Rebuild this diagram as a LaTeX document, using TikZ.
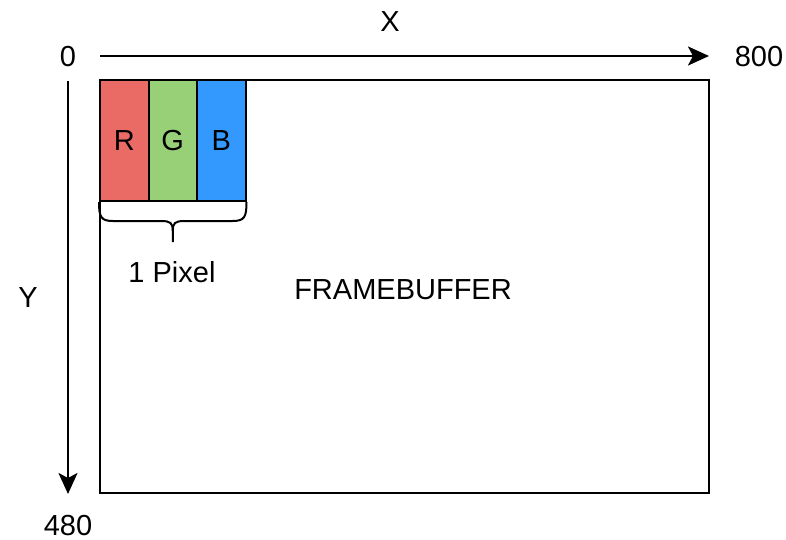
\documentclass[tikz,border=0pt]{standalone}
\usepackage{fontspec}
\setmainfont{Liberation Sans}
\usetikzlibrary{arrows.meta,calc}
\definecolor{cR}{HTML}{EA6B66}
\definecolor{cG}{HTML}{97D077}
\definecolor{cB}{HTML}{3399FF}
\begin{document}
\begin{tikzpicture}[x=1pt,y=-1pt,
  every node/.style={font=\fontsize{29}{35}\selectfont, inner sep=0pt},
  lbl/.style={anchor=center},
  chan/.style={draw=black, line width=2pt, minimum width=48.5pt, minimum height=121pt},
  fbbox/.style={draw=black, line width=2pt, minimum width=609pt, minimum height=413pt},
  axis/.style={line width=2.5pt, -{Stealth[length=21pt,width=19pt,inset=5pt]}}]
\useasboundingbox (0,0) rectangle (786,540);
\node[fbbox] (fb) at (404.5,286.5) {};
\node[lbl] (fbl) at (403,290) {FRAMEBUFFER};
\node[chan, fill=cR] (R) at (124.25,140.5) {R};
\node[chan, fill=cG] (G) at (172.75,140.5) {G};
\node[chan, fill=cB] (B) at (221.25,140.5) {B};
% brace
\coordinate (bl) at (R.south west);
\coordinate (br) at (B.south east);
\coordinate (bm) at ($(bl)!0.5!(br)$);
\draw[line width=2pt]
  (bl) .. controls ($(bl)+(0,15)$) and ($(bl)+(2,19)$) .. ($(bl)+(14,19)$)
  -- ($(bm)+(-12,19)$) .. controls ($(bm)+(-2,19)$) and ($(bm)+(0,21)$) .. ($(bm)+(0,29)$)
  -- ($(bm)+(0,40)$);
\draw[line width=2pt]
  (br) .. controls ($(br)+(0,15)$) and ($(br)+(-2,19)$) .. ($(br)+(-14,19)$)
  -- ($(bm)+(12,19)$) .. controls ($(bm)+(2,19)$) and ($(bm)+(0,21)$) .. ($(bm)+(0,29)$);
\node[lbl] (pix) at (172,272) {1 Pixel};
% axes
\node[lbl] (zero) at (68,57) {0};
\node[lbl] (xmax) at (759,57) {800};
\node[lbl] (xl) at (390,22) {X};
\node[lbl] (yl) at (28,298) {Y};
\node[lbl] (ymax) at (68,526) {480};
\coordinate (xs) at (100,56);
\coordinate (xe) at (709,56);
\coordinate (ys) at (68,81);
\coordinate (ye) at (68,494);
\draw[axis] (xs) -- (xe);
\draw[axis] (ys) -- (ye);
\end{tikzpicture}
\end{document}
